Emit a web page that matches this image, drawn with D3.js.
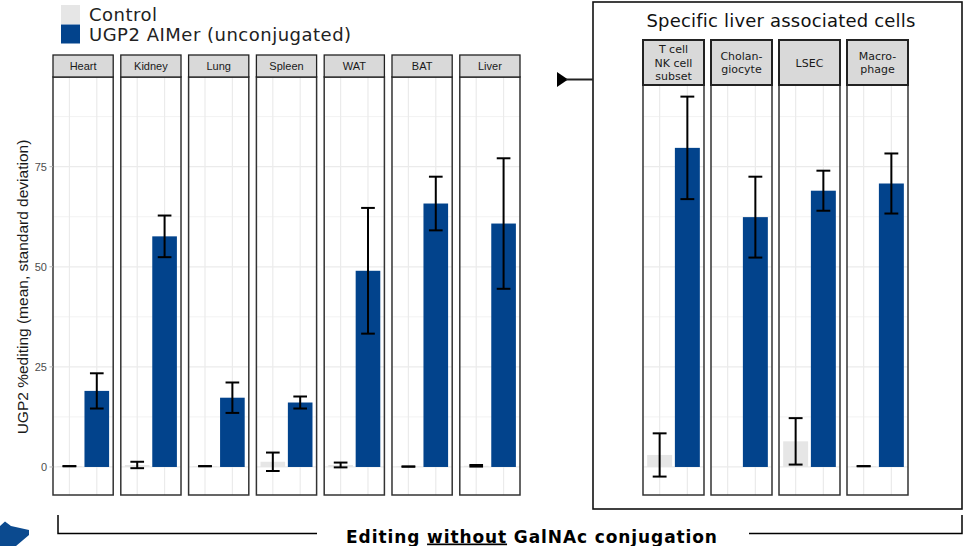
<!DOCTYPE html>
<html><head><meta charset="utf-8">
<script src="https://cdn.jsdelivr.net/npm/d3@7"></script>
<style>html,body{margin:0;padding:0;background:#fff;}svg{display:block;}</style>
</head><body>
<svg id="chart" width="963" height="546"></svg>
<script>
// ---- data ----
const groups = ["Control", "UGP2 AIMer (unconjugated)"];
const tissues = ["Heart", "Kidney", "Lung", "Spleen", "WAT", "BAT", "Liver"];
const tissueControlMean = [0.2, 0.5, 0.2, 1.3, 0.5, 0.1, 0.3];
const tissueControlSd   = [0.0, 0.8, 0.0, 2.3, 0.6, 0.0, 0.2];
const tissueUgp2Mean    = [19.0, 57.6, 17.3, 16.1, 49.0, 65.8, 60.8];
const tissueUgp2Sd      = [4.4, 5.2, 3.8, 1.5, 15.7, 6.7, 16.3];
const cellTypes = [["T cell", "NK cell", "subset"], ["Cholan-", "giocyte"], ["LSEC"], ["Macro-", "phage"]];
const cellControlMean = [3.0, 0.0, 6.4, 0.2];
const cellControlSd   = [5.4, null, 5.8, 0.0];
const cellUgp2Mean    = [79.7, 62.4, 69.0, 70.8];
const cellUgp2Sd      = [12.8, 10.1, 5.0, 7.5];
const yTicks = [0, 25, 50, 75];
const yMinor = [12.5, 37.5, 62.5, 87.5];

const colors = {"Control": "#e6e6e6", "UGP2 AIMer (unconjugated)": "#02438c"};

const svg = d3.select("#chart");
const y = d3.scaleLinear().domain([-7, 97.4]).range([495, 77]);

function drawFacets(names, labelLines, ctrlM, ctrlS, ugM, ugS, xRange, pInner, panelTop, stripTop, stripFont, stripStroke) {
  const keys = names.map((d, i) => "p" + i);
  const fx = d3.scaleBand().domain(keys).range(xRange).paddingInner(pInner).paddingOuter(0);
  const bw = fx.bandwidth();
  const xi = d3.scalePoint().domain(groups).range([0, bw]).padding(0.6);
  const step = xi.step();
  keys.forEach((k, i) => {
    const g = svg.append("g").attr("transform", `translate(${fx(k)},0)`);
    const bottom = y.range()[0];
    g.append("rect").attr("x", 0).attr("y", panelTop).attr("width", bw).attr("height", bottom - panelTop).attr("fill", "#fff");
    yMinor.forEach(v => { if (y(v) > panelTop) g.append("line").attr("x1", 0).attr("x2", bw).attr("y1", y(v)).attr("y2", y(v)).attr("stroke", "#f2f2f2").attr("stroke-width", 1); });
    yTicks.forEach(v => g.append("line").attr("x1", 0).attr("x2", bw).attr("y1", y(v)).attr("y2", y(v)).attr("stroke", "#ebebeb").attr("stroke-width", 1.2));
    groups.forEach(gr => g.append("line").attr("x1", xi(gr)).attr("x2", xi(gr)).attr("y1", panelTop).attr("y2", bottom).attr("stroke", "#ebebeb").attr("stroke-width", 1.2));
    const vals = [[ctrlM[i], ctrlS[i]], [ugM[i], ugS[i]]];
    groups.forEach((gr, j) => {
      const [m, s] = vals[j];
      g.append("rect").attr("x", xi(gr) - 0.45 * step).attr("width", 0.9 * step)
        .attr("y", y(Math.max(0, m))).attr("height", Math.abs(y(0) - y(m)))
        .attr("fill", colors[gr]);
    });
    groups.forEach((gr, j) => {
      const [m, s] = vals[j];
      if (s === null) return;
      const cx = xi(gr), hw = 0.25 * step;
      const e = g.append("g").attr("stroke", "#000").attr("stroke-width", 2).attr("fill", "none");
      e.append("line").attr("x1", cx).attr("x2", cx).attr("y1", y(m + s)).attr("y2", y(m - s));
      e.append("line").attr("x1", cx - hw).attr("x2", cx + hw).attr("y1", y(m + s)).attr("y2", y(m + s));
      e.append("line").attr("x1", cx - hw).attr("x2", cx + hw).attr("y1", y(m - s)).attr("y2", y(m - s));
    });
    g.append("rect").attr("x", 0).attr("y", panelTop).attr("width", bw).attr("height", bottom - panelTop)
      .attr("fill", "none").attr("stroke", "#333").attr("stroke-width", 1.5);
    g.append("rect").attr("x", 0).attr("y", stripTop).attr("width", bw).attr("height", panelTop - stripTop)
      .attr("fill", "#d9d9d9").attr("stroke", "#222").attr("stroke-width", stripStroke);
    const lines = labelLines[i];
    const lh = 13.5;
    const cy = (stripTop + panelTop) / 2;
    const t = g.append("text").attr("text-anchor", "middle").attr("font-family", stripFont).attr("font-size", 11).attr("fill", "#1a1a1a");
    lines.forEach((ln, li) => {
      t.append("tspan").attr("x", bw / 2).attr("y", cy + (li - (lines.length - 1) / 2) * lh + 4).text(ln);
    });
  });
}

drawFacets(tissues, tissues.map(d => [d]), tissueControlMean, tissueControlSd, tissueUgp2Mean, tissueUgp2Sd,
  [53, 520], 0.112, 77, 55, "Liberation Sans, Arial, sans-serif", 1.3);

// y axis
const ya = svg.append("g");
yTicks.forEach(v => {
  ya.append("line").attr("x1", 49.5).attr("x2", 53).attr("y1", y(v)).attr("y2", y(v)).attr("stroke", "#b3b3b3");
  ya.append("text").attr("x", 47).attr("y", y(v)).attr("dy", "0.35em").attr("text-anchor", "end")
    .attr("font-family", "Liberation Sans, Arial, sans-serif").attr("font-size", 11).attr("fill", "#4d4d4d").text(v);
});
svg.append("text").attr("transform", "translate(28,287) rotate(-90)").attr("text-anchor", "middle")
  .attr("font-family", "Liberation Sans, Arial, sans-serif").attr("font-size", 15.5).attr("fill", "#1a1a1a")
  .text("UGP2 %editing (mean, standard deviation)");

// legend
const leg = svg.append("g");
groups.forEach((gr, i) => {
  leg.append("rect").attr("x", 61).attr("y", 5 + i * 19.5).attr("width", 19).attr("height", 19).attr("fill", colors[gr]);
  leg.append("text").attr("x", 89).attr("y", 21 + i * 20).attr("font-family", "DejaVu Sans, Verdana, sans-serif")
    .attr("font-size", 18).attr("letter-spacing", "0.5px").attr("fill", "#222").text(gr);
});

// right box
svg.append("rect").attr("x", 593).attr("y", 2).attr("width", 369).attr("height", 507)
  .attr("fill", "none").attr("stroke", "#111").attr("stroke-width", 1.6);
svg.append("text").attr("x", 781).attr("y", 27).attr("text-anchor", "middle")
  .attr("font-family", "DejaVu Sans, Verdana, sans-serif").attr("font-size", 18).attr("letter-spacing", "0.2px").attr("fill", "#111")
  .text("Specific liver associated cells");

drawFacets(cellTypes.map(d => d.join(" ")), cellTypes, cellControlMean, cellControlSd, cellUgp2Mean, cellUgp2Sd,
  [643, 908], 0.103, 85, 40, "DejaVu Sans, Verdana, sans-serif", 2);

// arrow into box
svg.append("path").attr("d", "M557,72 L568,79.5 L557,87 Z").attr("fill", "#000");
svg.append("line").attr("x1", 566).attr("x2", 593).attr("y1", 79.5).attr("y2", 79.5).attr("stroke", "#222").attr("stroke-width", 2);

// bottom bracket
svg.append("path").attr("d", "M58,515 L58,533.5 L317,533.5").attr("fill", "none").attr("stroke", "#000").attr("stroke-width", 1.5);
svg.append("path").attr("d", "M749,533.5 L962,533.5 L962,515").attr("fill", "none").attr("stroke", "#000").attr("stroke-width", 1.5);
const bt = svg.append("text").attr("x", 532).attr("y", 542.5).attr("text-anchor", "middle")
  .attr("font-family", "DejaVu Sans, Verdana, sans-serif").attr("font-weight", "bold").attr("font-size", 17)
  .attr("letter-spacing", "0.9px").attr("fill", "#000");
bt.append("tspan").text("Editing ");
bt.append("tspan").attr("text-decoration", "underline").text("without");
bt.append("tspan").text(" GalNAc conjugation");

// blue pointer shape bottom-left
svg.append("path").attr("d", "M0,526 L5,521.5 L11,526 L29,530 L29,535 L16,546 L0,546 Z").attr("fill", "#0b4a8f");
</script>
</body></html>
